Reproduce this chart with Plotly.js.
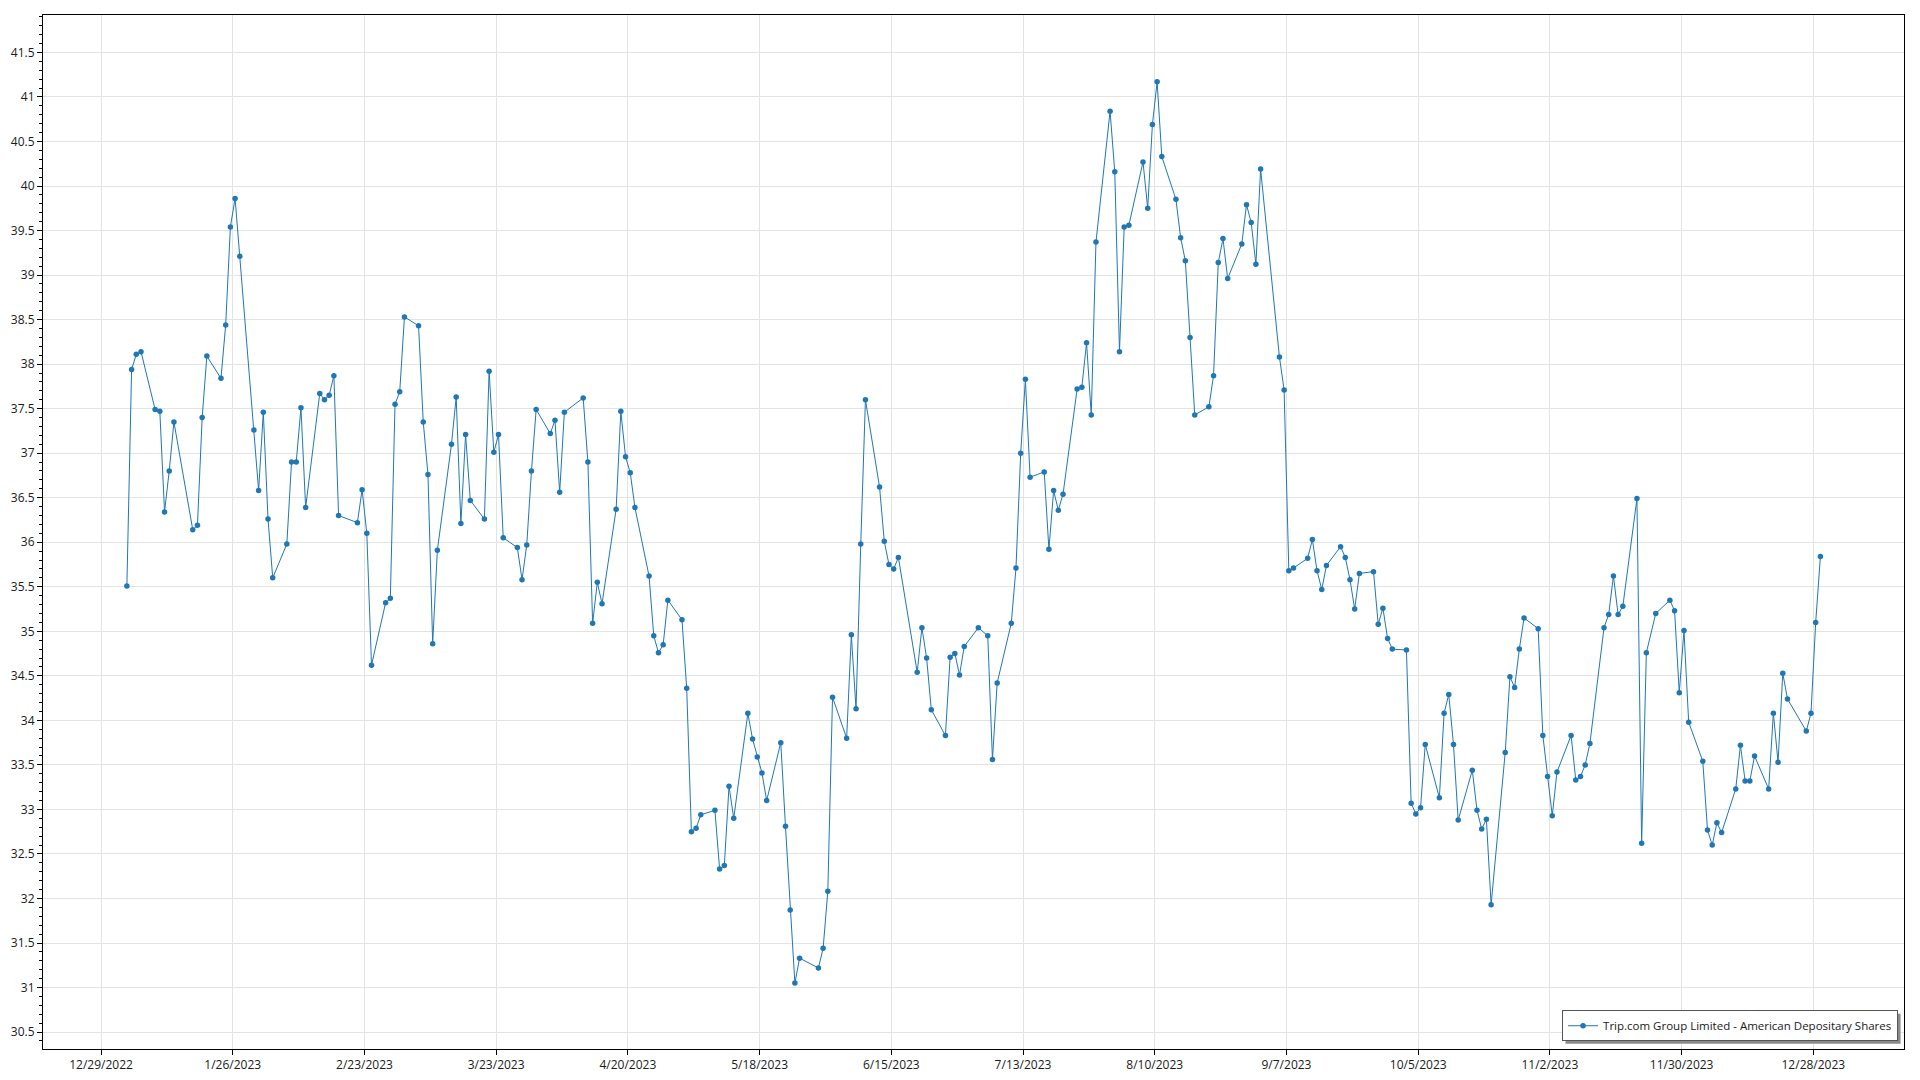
<!DOCTYPE html>
<html>
<head>
<meta charset="utf-8">
<script src="https://cdn.plot.ly/plotly-3.0.1.min.js"></script>
<style>
  html, body { margin: 0; padding: 0; background: #ffffff; }
  #chart { width: 1920px; height: 1080px; }
</style>
</head>
<body>
<div id="chart"></div>
<script>
// ---- Data (trading days of 2023, closing prices) ----
const seriesName = 'Trip.com Group Limited - American Depositary Shares';

const dates = [
  '2023-01-03','2023-01-04','2023-01-05','2023-01-06','2023-01-09','2023-01-10','2023-01-11','2023-01-12','2023-01-13','2023-01-17',
  '2023-01-18','2023-01-19','2023-01-20','2023-01-23','2023-01-24','2023-01-25','2023-01-26','2023-01-27','2023-01-30','2023-01-31',
  '2023-02-01','2023-02-02','2023-02-03','2023-02-06','2023-02-07','2023-02-08','2023-02-09','2023-02-10','2023-02-13','2023-02-14',
  '2023-02-15','2023-02-16','2023-02-17','2023-02-21','2023-02-22','2023-02-23','2023-02-24','2023-02-27','2023-02-28',
  '2023-03-01','2023-03-02','2023-03-03','2023-03-06','2023-03-07','2023-03-08','2023-03-09','2023-03-10','2023-03-13','2023-03-14',
  '2023-03-15','2023-03-16','2023-03-17','2023-03-20','2023-03-21','2023-03-22','2023-03-23','2023-03-24','2023-03-27','2023-03-28',
  '2023-03-29','2023-03-30','2023-03-31',
  '2023-04-03','2023-04-04','2023-04-05','2023-04-06','2023-04-10','2023-04-11','2023-04-12','2023-04-13','2023-04-14','2023-04-17',
  '2023-04-18','2023-04-19','2023-04-20','2023-04-21','2023-04-24','2023-04-25','2023-04-26','2023-04-27','2023-04-28',
  '2023-05-01','2023-05-02','2023-05-03','2023-05-04','2023-05-05','2023-05-08','2023-05-09','2023-05-10','2023-05-11','2023-05-12',
  '2023-05-15','2023-05-16','2023-05-17','2023-05-18','2023-05-19','2023-05-22','2023-05-23','2023-05-24','2023-05-25','2023-05-26',
  '2023-05-30','2023-05-31',
  '2023-06-01','2023-06-02','2023-06-05','2023-06-06','2023-06-07','2023-06-08','2023-06-09','2023-06-12','2023-06-13','2023-06-14',
  '2023-06-15','2023-06-16','2023-06-20','2023-06-21','2023-06-22','2023-06-23','2023-06-26','2023-06-27','2023-06-28','2023-06-29',
  '2023-06-30',
  '2023-07-03','2023-07-05','2023-07-06','2023-07-07','2023-07-10','2023-07-11','2023-07-12','2023-07-13','2023-07-14','2023-07-17',
  '2023-07-18','2023-07-19','2023-07-20','2023-07-21','2023-07-24','2023-07-25','2023-07-26','2023-07-27','2023-07-28','2023-07-31',
  '2023-08-01','2023-08-02','2023-08-03','2023-08-04','2023-08-07','2023-08-08','2023-08-09','2023-08-10','2023-08-11','2023-08-14',
  '2023-08-15','2023-08-16','2023-08-17','2023-08-18','2023-08-21','2023-08-22','2023-08-23','2023-08-24','2023-08-25','2023-08-28',
  '2023-08-29','2023-08-30','2023-08-31',
  '2023-09-01','2023-09-05','2023-09-06','2023-09-07','2023-09-08','2023-09-11','2023-09-12','2023-09-13','2023-09-14','2023-09-15',
  '2023-09-18','2023-09-19','2023-09-20','2023-09-21','2023-09-22','2023-09-25','2023-09-26','2023-09-27','2023-09-28','2023-09-29',
  '2023-10-02','2023-10-03','2023-10-04','2023-10-05','2023-10-06','2023-10-09','2023-10-10','2023-10-11','2023-10-12','2023-10-13',
  '2023-10-16','2023-10-17','2023-10-18','2023-10-19','2023-10-20','2023-10-23','2023-10-24','2023-10-25','2023-10-26','2023-10-27',
  '2023-10-30','2023-10-31',
  '2023-11-01','2023-11-02','2023-11-03','2023-11-06','2023-11-07','2023-11-08','2023-11-09','2023-11-10','2023-11-13','2023-11-14',
  '2023-11-15','2023-11-16','2023-11-17','2023-11-20','2023-11-21','2023-11-22','2023-11-24','2023-11-27','2023-11-28','2023-11-29',
  '2023-11-30',
  '2023-12-01','2023-12-04','2023-12-05','2023-12-06','2023-12-07','2023-12-08','2023-12-11','2023-12-12','2023-12-13','2023-12-14',
  '2023-12-15','2023-12-18','2023-12-19','2023-12-20','2023-12-21','2023-12-22','2023-12-26','2023-12-27','2023-12-28','2023-12-29'
];

const closes = [
  35.51, 37.94, 38.11, 38.14, 37.49, 37.47, 36.34, 36.80, 37.35, 36.14,
  36.19, 37.40, 38.09, 37.84, 38.44, 39.54, 39.86, 39.21, 37.26, 36.58,
  37.46, 36.26, 35.60, 35.98, 36.90, 36.90, 37.51, 36.39, 37.67, 37.60,
  37.65, 37.87, 36.30, 36.22, 36.59, 36.10, 34.62, 35.32, 35.37,
  37.55, 37.69, 38.53, 38.43, 37.35, 36.76, 34.86, 35.91, 37.10, 37.63,
  36.21, 37.21, 36.47, 36.26, 37.92, 37.01, 37.21, 36.05, 35.94, 35.58,
  35.97, 36.80, 37.49,
  37.22, 37.37, 36.56, 37.46, 37.62, 36.90, 35.09, 35.55, 35.31, 36.37,
  37.47, 36.96, 36.78, 36.39, 35.62, 34.95, 34.76, 34.85, 35.35,
  35.13, 34.36, 32.75, 32.79, 32.94, 32.99, 32.33, 32.37, 33.26, 32.90,
  34.08, 33.79, 33.59, 33.41, 33.10, 33.75, 32.81, 31.87, 31.05, 31.33,
  31.22, 31.44,
  32.08, 34.26, 33.80, 34.96, 34.13, 35.98, 37.60, 36.62, 36.01, 35.75,
  35.70, 35.83, 34.54, 35.04, 34.70, 34.12, 33.83, 34.71, 34.75, 34.51,
  34.83,
  35.04, 34.95, 33.56, 34.42, 35.09, 35.71, 37.00, 37.83, 36.73, 36.79,
  35.92, 36.58, 36.36, 36.54, 37.72, 37.74, 38.24, 37.43, 39.37, 40.84,
  40.16, 38.14, 39.54, 39.56, 40.27, 39.75, 40.69, 41.17, 40.33, 39.85,
  39.42, 39.16, 38.30, 37.43, 37.52, 37.87, 39.14, 39.41, 38.96, 39.35,
  39.79, 39.59, 39.12,
  40.19, 38.08, 37.71, 35.68, 35.71, 35.82, 36.03, 35.68, 35.47, 35.74,
  35.95, 35.83, 35.58, 35.25, 35.65, 35.67, 35.08, 35.26, 34.92, 34.80,
  34.79, 33.07, 32.95, 33.02, 33.73, 33.13, 34.08, 34.29, 33.73, 32.88,
  33.44, 32.99, 32.78, 32.89, 31.93, 33.64, 34.49, 34.37, 34.80, 35.15,
  35.03, 33.83,
  33.37, 32.93, 33.42, 33.83, 33.33, 33.37, 33.50, 33.74, 35.04, 35.19,
  35.62, 35.19, 35.28, 36.49, 32.62, 34.76, 35.20, 35.35, 35.23, 34.31,
  35.01,
  33.98, 33.54, 32.77, 32.60, 32.85, 32.74, 33.23, 33.72, 33.32, 33.32,
  33.60, 33.23, 34.08, 33.53, 34.53, 34.24, 33.88, 34.08, 35.10, 35.84
];

// x-axis tick dates (every four weeks) and y-axis ticks
const xTickDates = [
  '2022-12-29','2023-01-26','2023-02-23','2023-03-23','2023-04-20','2023-05-18','2023-06-15',
  '2023-07-13','2023-08-10','2023-09-07','2023-10-05','2023-11-02','2023-11-30','2023-12-28'
];
const yTickValues = [30.5, 31, 31.5, 32, 32.5, 33, 33.5, 34, 34.5, 35, 35.5, 36, 36.5, 37,
                     37.5, 38, 38.5, 39, 39.5, 40, 40.5, 41, 41.5];

const SESSION_TIME = ' 12:00';   // points sit at mid-day in the reference

const trace = {
  type: 'scatter',
  mode: 'lines+markers',
  name: seriesName,
  x: dates.map(d => d + SESSION_TIME),
  y: closes,
  line: { color: '#1f77b4', width: 1 },
  marker: { color: '#1f77b4', size: 5.5 },
  showlegend: true
};

const FONT = '"Segoe UI", "Open Sans", "Noto Sans", sans-serif';
const M = { l: 43, r: 16, t: 15, b: 31 };
const W = 1920, H = 1080;

const layout = {
  width: W,
  height: H,
  paper_bgcolor: '#ffffff',
  plot_bgcolor: '#ffffff',
  margin: { l: M.l, r: M.r, t: M.t, b: M.b, autoexpand: false },
  font: { family: FONT, size: 12, color: '#1a1a1a' },
  showlegend: true,
  xaxis: {
    type: 'date',
    range: ['2022-12-16 16:00', '2024-01-16 06:30'],
    tickmode: 'array',
    tickvals: xTickDates,
    tickformat: '%-m/%-d/%Y',
    ticks: 'outside',
    ticklen: 5,
    tickcolor: '#000000',
    showgrid: true,
    gridcolor: '#e3e3e3',
    gridwidth: 1,
    showline: true,
    linecolor: '#000000',
    linewidth: 1,
    mirror: true,
    zeroline: false,
    tickfont: { family: FONT, size: 12, color: '#1a1a1a' }
  },
  yaxis: {
    range: [30.31, 41.92],
    tickmode: 'array',
    tickvals: yTickValues,
    ticks: 'outside',
    ticklen: 5,
    tickcolor: '#000000',
    showgrid: true,
    gridcolor: '#e3e3e3',
    gridwidth: 1,
    showline: true,
    linecolor: '#000000',
    linewidth: 1,
    mirror: true,
    zeroline: false,
    tickfont: { family: FONT, size: 12, color: '#1a1a1a' },
    minor: { dtick: 0.1, ticks: 'outside', ticklen: 3, tickcolor: '#000000', showgrid: false }
  },
  legend: {
    x: 0.9968,
    y: 0.0075,
    xanchor: 'right',
    yanchor: 'bottom',
    bgcolor: '#ffffff',
    bordercolor: '#555555',
    borderwidth: 1,
    font: { family: FONT, size: 11.5, color: '#1a1a1a' },
    itemwidth: 30
  }
};

Plotly.newPlot('chart', [trace], layout, { displayModeBar: false, staticPlot: true }).then(gd => {
  // drop shadow behind the legend box (offset right/down like the reference)
  const bg = gd.querySelector('.legend .bg');
  if (!bg) return;
  const r = bg.getBoundingClientRect();
  const host = gd.getBoundingClientRect();
  const pw = W - M.l - M.r, ph = H - M.t - M.b;
  const toX = px => (px - host.left - M.l) / pw;
  const toY = py => (H - M.b - (py - host.top)) / ph;
  const off = 3;
  return Plotly.relayout(gd, {
    shapes: [{
      type: 'rect', xref: 'paper', yref: 'paper', layer: 'above',
      x0: toX(r.left + off), x1: toX(r.right + off),
      y0: toY(r.bottom + off), y1: toY(r.top + off),
      fillcolor: '#8a8a8a', line: { width: 0 }
    }]
  });
});
</script>
</body>
</html>
